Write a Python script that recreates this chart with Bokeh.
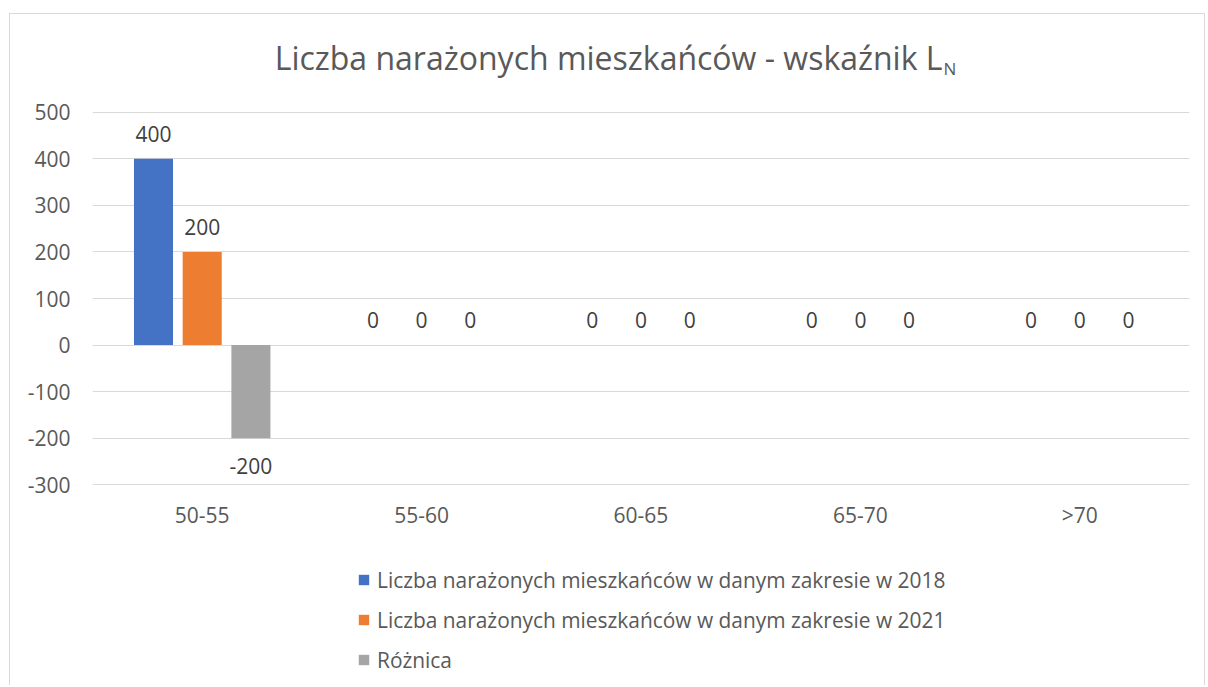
from bokeh.plotting import figure
from bokeh.models import (ColumnDataSource, Legend, LegendItem, Label, Range1d,
                          FactorRange, FixedTicker)
from bokeh.transform import dodge
from bokeh.core.properties import value
from bokeh.embed import file_html
from bokeh.resources import INLINE

# ---- data ----
categories = ["50-55", "55-60", "60-65", "65-70", ">70"]
values_2018 = [400, 0, 0, 0, 0]
values_2021 = [200, 0, 0, 0, 0]
values_diff = [-200, 0, 0, 0, 0]
series_names = [
    "Liczba narażonych mieszkańców w danym zakresie w 2018",
    "Liczba narażonych mieszkańców w danym zakresie w 2021",
    "Różnica",
]
y_ticks = [-300, -200, -100, 0, 100, 200, 300, 400, 500]
title_main = "Liczba narażonych mieszkańców - wskaźnik L"
title_sub = "N"

# ---- style / layout ----
FONT = "Open Sans"
colors = ["#4472C4", "#ED7D31", "#A5A5A5"]
offsets = [-0.222, 0.0, 0.222]
bar_width = 0.178
text_grey = "#595959"
label_grey = "#404040"
grid_grey = "#D9D9D9"

W, H = 1196, 672                # canvas, placed at page (10, 14)
ORG_X, ORG_Y = 10, 14
MB_L, MB_R, MB_T, MB_B = 82, 17, 16, 6
frame_top_pg = ORG_Y + MB_T
frame_bot_pg = ORG_Y + H - MB_B
frame_left_pg = ORG_X + MB_L
# value axis geometry: top tick at page y 111.7, bottom tick at 484.3
tick_top_pg, tick_bot_pg = 111.7, 484.3
ppu = (tick_bot_pg - tick_top_pg) / (y_ticks[-1] - y_ticks[0])
y_hi = y_ticks[-1] + (tick_top_pg - frame_top_pg) / ppu
y_lo = y_ticks[0] - (frame_bot_pg - tick_bot_pg) / ppu

p = figure(
    x_range=FactorRange(factors=categories, range_padding=0),
    y_range=Range1d(y_lo, y_hi),
    width=W, height=H,
    output_backend="svg", toolbar_location=None,
    min_border_left=MB_L, min_border_right=MB_R,
    min_border_top=MB_T, min_border_bottom=MB_B,
    outline_line_color=None,
    styles={"border-top": "1px solid #D9D9D9",
            "border-left": "1px solid #D9D9D9",
            "border-right": "1px solid #D9D9D9",
            "position": "relative", "left": "9px", "top": "13px"},
)

legend_items = []
for vals, name, col, off in zip([values_2018, values_2021, values_diff],
                                series_names, colors, offsets):
    src = ColumnDataSource(dict(
        cat=categories,
        val=vals,
        label=[str(v) for v in vals],
        yoff=[27.5 if v < 0 else -25 for v in vals],
    ))
    r = p.vbar(x=dodge("cat", off, range=p.x_range), top="val", width=bar_width,
               source=src, fill_color=col, line_color=None)
    p.text(x=dodge("cat", off, range=p.x_range), y="val", text="label",
           y_offset="yoff", source=src, text_align="center",
           text_baseline="alphabetic", text_font=value(FONT),
           text_font_size="21px", text_color=label_grey)
    legend_items.append(LegendItem(label=name, renderers=[r]))

# axes
for ax in (p.xaxis[0], p.yaxis[0]):
    ax.axis_line_color = None
    ax.major_tick_line_color = None
    ax.minor_tick_line_color = None
    ax.major_label_text_font = FONT
    ax.major_label_text_font_size = "21px"
    ax.major_label_text_color = text_grey
p.yaxis.ticker = FixedTicker(ticks=y_ticks)
p.yaxis.major_label_overrides = {t: str(t) for t in y_ticks}
p.yaxis.major_label_standoff = 16
p.xaxis.fixed_location = y_ticks[0]
p.xaxis.major_label_standoff = 10

p.ygrid.ticker = FixedTicker(ticks=y_ticks)
p.ygrid.grid_line_color = grid_grey
p.ygrid.grid_line_width = 1
p.xgrid.grid_line_color = None

# legend (inside the extended frame, below the value area)
legend = Legend(items=legend_items,
                location=(357 - frame_left_pg, frame_bot_pg - 673.5),
                orientation="vertical",
                label_text_font=FONT, label_text_font_size="20.9px",
                label_text_color=text_grey, glyph_width=13, glyph_height=13,
                label_standoff=7, spacing=12, padding=0, margin=0,
                border_line_color=None, background_fill_alpha=0)
p.add_layout(legend, "center")

# title with subscript N
n_x_pg = 943
p.add_layout(Label(x=n_x_pg - 1 - frame_left_pg, y=frame_bot_pg - 57,
                   x_units="screen", y_units="screen",
                   text=title_main, text_font=FONT, text_font_size="32px",
                   text_color=text_grey, text_align="right",
                   text_baseline="alphabetic"))
p.add_layout(Label(x=n_x_pg - frame_left_pg, y=frame_bot_pg - 67.5,
                   x_units="screen", y_units="screen",
                   text=title_sub, text_font=FONT, text_font_size="17px",
                   text_color=text_grey, text_align="left",
                   text_baseline="alphabetic"))

open("out.html", "w").write(file_html(p, INLINE))
